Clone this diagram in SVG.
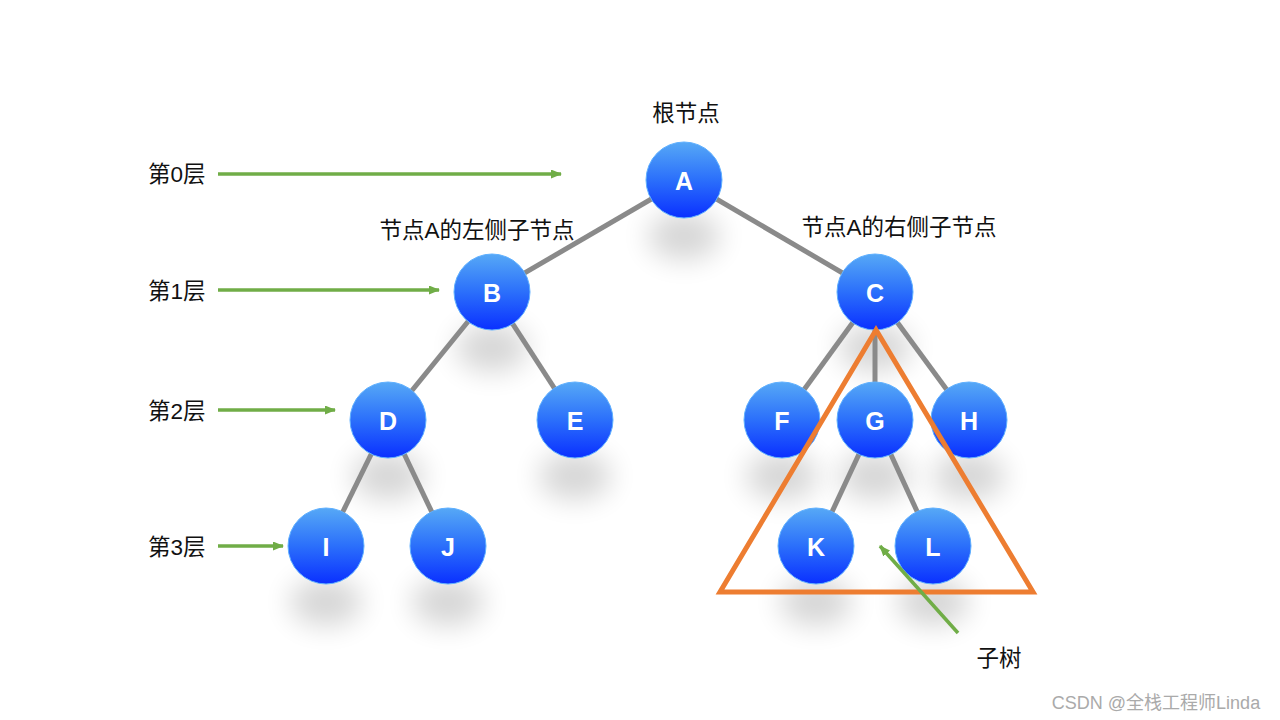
<svg xmlns="http://www.w3.org/2000/svg" width="1280" height="720" viewBox="0 0 1280 720">
<style>
.edge{stroke:#8a8a8a;stroke-width:5;fill:none}
.node{fill:url(#nodeGrad);stroke:#5fb0ff;stroke-width:1}
.shadow{fill:#000;opacity:0.16;filter:url(#blur)}
.nl{font-family:"Liberation Sans",Arial,sans-serif;font-size:25px;font-weight:bold;fill:#fff;text-anchor:middle;dominant-baseline:central}
.lab{font-family:"Liberation Sans","Noto Sans CJK SC",sans-serif;font-size:22.5px;fill:#111}
.garrow{stroke:#70ad47;stroke-width:3.5;fill:none;marker-end:url(#gArrow)}
</style>
<defs>
<linearGradient id="nodeGrad" x1="0" y1="0" x2="0" y2="1">
<stop offset="0" stop-color="#56a8f6"/>
<stop offset="0.5" stop-color="#2b6ffb"/>
<stop offset="1" stop-color="#0a30ff"/>
</linearGradient>
<filter id="blur" x="-1" y="-1" width="3" height="3"><feGaussianBlur stdDeviation="14"/></filter>
<marker id="gArrow" markerWidth="11" markerHeight="9" refX="10" refY="4.5" orient="auto" markerUnits="userSpaceOnUse">
<path d="M0,0 L11,4.5 L0,9 Z" fill="#70ad47"/>
</marker>
</defs>
<rect width="1280" height="720" fill="#fff"/>
<g id="shadows">
<ellipse class="shadow" cx="684" cy="236" rx="36" ry="24"/>
<ellipse class="shadow" cx="492" cy="348" rx="36" ry="24"/>
<ellipse class="shadow" cx="875" cy="348" rx="36" ry="24"/>
<ellipse class="shadow" cx="388" cy="476" rx="36" ry="24"/>
<ellipse class="shadow" cx="575" cy="476" rx="36" ry="24"/>
<ellipse class="shadow" cx="782" cy="476" rx="36" ry="24"/>
<ellipse class="shadow" cx="875" cy="476" rx="36" ry="24"/>
<ellipse class="shadow" cx="969" cy="476" rx="36" ry="24"/>
<ellipse class="shadow" cx="326" cy="602" rx="36" ry="24"/>
<ellipse class="shadow" cx="448" cy="602" rx="36" ry="24"/>
<ellipse class="shadow" cx="816" cy="602" rx="36" ry="24"/>
<ellipse class="shadow" cx="933" cy="602" rx="36" ry="24"/>
</g>
<g id="connectors">
<line class="edge" x1="684" y1="180" x2="492" y2="292"/>
<line class="edge" x1="684" y1="180" x2="875" y2="292"/>
<line class="edge" x1="492" y1="292" x2="388" y2="420"/>
<line class="edge" x1="492" y1="292" x2="575" y2="420"/>
<line class="edge" x1="875" y1="292" x2="782" y2="420"/>
<line class="edge" x1="875" y1="292" x2="875" y2="420"/>
<line class="edge" x1="875" y1="292" x2="969" y2="420"/>
<line class="edge" x1="388" y1="420" x2="326" y2="546"/>
<line class="edge" x1="388" y1="420" x2="448" y2="546"/>
<line class="edge" x1="875" y1="420" x2="816" y2="546"/>
<line class="edge" x1="875" y1="420" x2="933" y2="546"/>
</g>
<g id="node-A"><circle class="node" cx="684" cy="180" r="38"/><text class="nl" x="684" y="181">A</text></g>
<g id="node-B"><circle class="node" cx="492" cy="292" r="38"/><text class="nl" x="492" y="293">B</text></g>
<g id="node-C"><circle class="node" cx="875" cy="292" r="38"/><text class="nl" x="875" y="293">C</text></g>
<g id="node-D"><circle class="node" cx="388" cy="420" r="38"/><text class="nl" x="388" y="421">D</text></g>
<g id="node-E"><circle class="node" cx="575" cy="420" r="38"/><text class="nl" x="575" y="421">E</text></g>
<g id="node-F"><circle class="node" cx="782" cy="420" r="38"/><text class="nl" x="782" y="421">F</text></g>
<g id="node-G"><circle class="node" cx="875" cy="420" r="38"/><text class="nl" x="875" y="421">G</text></g>
<g id="node-H"><circle class="node" cx="969" cy="420" r="38"/><text class="nl" x="969" y="421">H</text></g>
<g id="node-I"><circle class="node" cx="326" cy="546" r="38"/><text class="nl" x="326" y="547">I</text></g>
<g id="node-J"><circle class="node" cx="448" cy="546" r="38"/><text class="nl" x="448" y="547">J</text></g>
<g id="node-K"><circle class="node" cx="816" cy="546" r="38"/><text class="nl" x="816" y="547">K</text></g>
<g id="node-L"><circle class="node" cx="933" cy="546" r="38"/><text class="nl" x="933" y="547">L</text></g>
<g id="subtree">
<polygon points="876,330 720,592 1033,592" fill="none" stroke="#ed7d31" stroke-width="5" stroke-linejoin="miter"/>
</g>
<g id="level-arrows">
<line class="garrow" x1="218" y1="174" x2="561" y2="174"/>
<line class="garrow" x1="218" y1="290" x2="439" y2="290"/>
<line class="garrow" x1="218" y1="410" x2="335" y2="410"/>
<line class="garrow" x1="218" y1="546" x2="283" y2="546"/>
<line class="garrow" x1="958" y1="633" x2="880" y2="546"/>
</g>
<g id="labels">
<text class="lab" x="148" y="182">第0层</text>
<text class="lab" x="148" y="299">第1层</text>
<text class="lab" x="148" y="419">第2层</text>
<text class="lab" x="148" y="555">第3层</text>
<text class="lab" x="686" y="121" text-anchor="middle">根节点</text>
<text class="lab" x="477" y="238" text-anchor="middle">节点A的左侧子节点</text>
<text class="lab" x="899" y="235" text-anchor="middle">节点A的右侧子节点</text>
<text class="lab" x="999" y="666" text-anchor="middle">子树</text>
<text x="1156" y="709" text-anchor="middle" font-family="Liberation Sans,'Noto Sans CJK SC',sans-serif" font-size="18" fill="#aaa">CSDN @全栈工程师Linda</text>
</g>
</svg>
